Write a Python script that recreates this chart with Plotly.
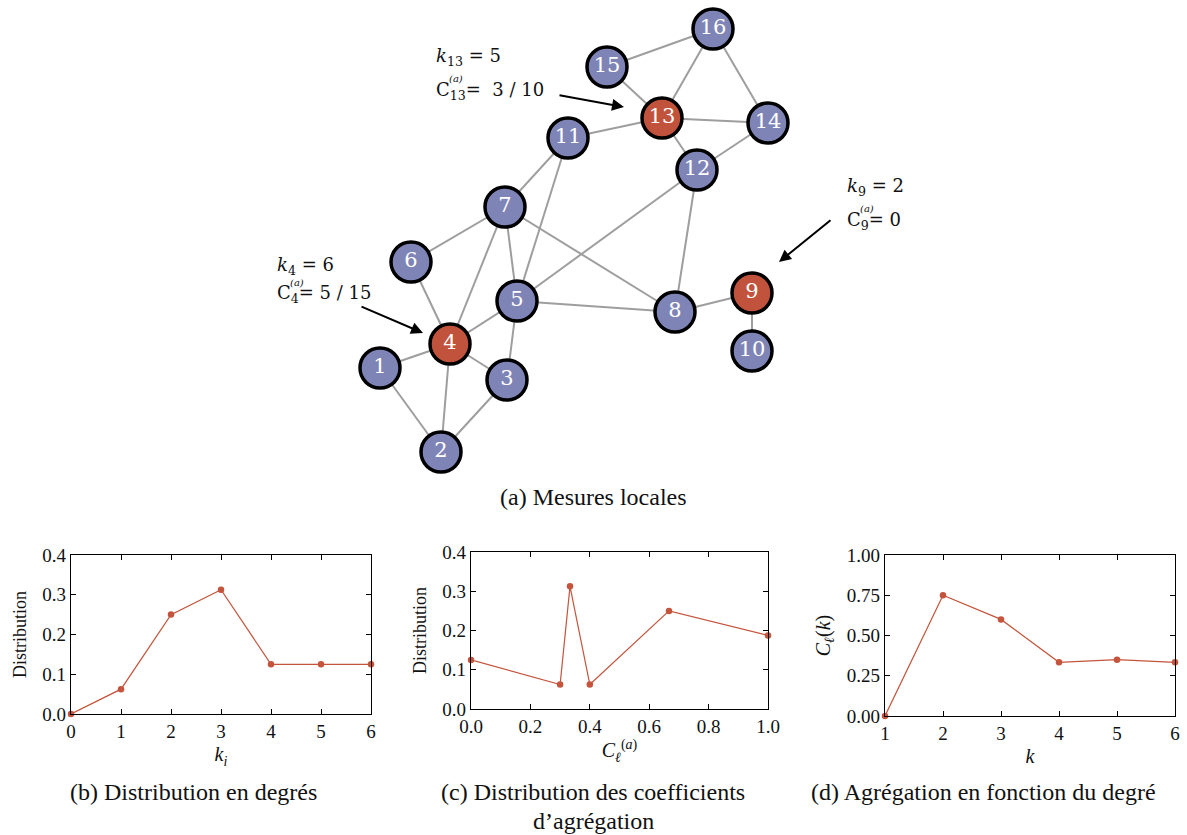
import plotly.graph_objects as go

W, H = 1187, 835

# ---- network (a) ----
node_ids = list(range(1, 17))
node_x = [380, 441, 507, 450, 517, 411, 505, 675, 752, 752, 568, 697, 662, 768, 607, 713]
node_y = [368, 452, 380, 344, 301, 262, 207, 312, 293, 351, 138, 170, 118, 123, 67, 29]
highlighted = [4, 9, 13]
edges = [(1, 4), (1, 2), (2, 4), (2, 3), (3, 4), (3, 5), (4, 5), (4, 6), (4, 7),
         (6, 7), (7, 5), (7, 11), (7, 8), (5, 11), (5, 12), (5, 8), (8, 12),
         (8, 9), (9, 10), (11, 13), (13, 15), (13, 16), (15, 16), (13, 14),
         (13, 12), (12, 14), (14, 16)]

# ---- (b) degree distribution ----
deg_k = [0, 1, 2, 3, 4, 5, 6]
deg_p = [0.0, 0.0625, 0.25, 0.3125, 0.125, 0.125, 0.125]

# ---- (c) clustering coefficient distribution ----
clus_c = [0.0, 0.3, 1 / 3, 0.4, 2 / 3, 1.0]
clus_p = [0.125, 0.0625, 0.3125, 0.0625, 0.25, 0.1875]

# ---- (d) clustering vs degree ----
ck_k = [1, 2, 3, 4, 5, 6]
ck_v = [0.0, 0.75, 0.6, 1 / 3, 0.35, 1 / 3]

BLUE = "#7F84B6"
RED = "#C1533D"
LINE = "#C4543C"
SERIF = "Liberation Serif"
INK = "#111111"

fig = go.Figure()

# edges
ex, ey = [], []
pos = {n: (x, y) for n, x, y in zip(node_ids, node_x, node_y)}
for a, b in edges:
    ex += [pos[a][0], pos[b][0], None]
    ey += [pos[a][1], pos[b][1], None]
fig.add_trace(go.Scatter(x=ex, y=ey, mode="lines", line=dict(color="#9E9E9E", width=2),
                         xaxis="x4", yaxis="y4", hoverinfo="skip", showlegend=False))
# nodes
fig.add_trace(go.Scatter(
    x=node_x, y=node_y, mode="markers+text", text=[str(n) for n in node_ids],
    textposition="middle center",
    textfont=dict(family="DejaVu Serif", size=21, color="white"),
    marker=dict(size=40, color=[RED if n in highlighted else BLUE for n in node_ids],
                line=dict(color="black", width=3.5)),
    xaxis="x4", yaxis="y4", showlegend=False))

# line charts
for xs, ys, xa, ya in [(deg_k, deg_p, "x", "y"), (clus_c, clus_p, "x2", "y2"), (ck_k, ck_v, "x3", "y3")]:
    fig.add_trace(go.Scatter(x=xs, y=ys, mode="lines+markers",
                             line=dict(color=LINE, width=1.2), marker=dict(size=6.5, color=LINE),
                             xaxis=xa, yaxis=ya, showlegend=False, cliponaxis=False))


def px_dom_x(a, b):
    return [a / W, b / W]


def px_dom_y(top, bottom):
    return [1 - bottom / H, 1 - top / H]


axis_common = dict(showline=True, linecolor="black", linewidth=1.3, mirror="ticks",
                   ticks="inside", ticklen=5, tickcolor="black", showgrid=False,
                   zeroline=False, automargin=False,
                   tickfont=dict(family=SERIF, size=19, color=INK))
ttl = dict(family=SERIF, size=20, color=INK)
ttl_small = dict(family=SERIF, size=18, color=INK)

fig.update_layout(
    template="none",
    width=W, height=H, margin=dict(l=0, r=0, t=0, b=0, pad=0),
    paper_bgcolor="white", plot_bgcolor="rgba(0,0,0,0)",
    xaxis=dict(domain=px_dom_x(71, 371), range=[0, 6], dtick=1, anchor="y",
               title=dict(text="<i>k<sub>i</sub></i>", font=ttl, standoff=6),
               **axis_common),
    yaxis=dict(domain=px_dom_y(555, 714), range=[0, 0.4], dtick=0.1, tickformat=".1f", anchor="x",
               title=dict(text="Distribution", font=ttl_small, standoff=10),
               **axis_common),
    xaxis2=dict(domain=px_dom_x(471, 768), range=[0, 1], dtick=0.2, tickformat=".1f", anchor="y2",
                title=dict(text="<i>C</i><sub><i>ℓ</i></sub><sup>(<i>a</i>)</sup>", font=ttl, standoff=6),
                **axis_common),
    yaxis2=dict(domain=px_dom_y(552, 709), range=[0, 0.4], dtick=0.1, tickformat=".1f", anchor="x2",
                title=dict(text="Distribution", font=ttl_small, standoff=10),
                **axis_common),
    xaxis3=dict(domain=px_dom_x(885, 1175), range=[1, 6], dtick=1, anchor="y3",
                title=dict(text="<i>k</i>", font=ttl, standoff=6),
                **axis_common),
    yaxis3=dict(domain=px_dom_y(555, 716), range=[0, 1], dtick=0.25, tickformat=".2f", anchor="x3",
                title=dict(text="<i>C</i><sub><i>ℓ</i></sub>(<i>k</i>)", font=ttl, standoff=10),
                **axis_common),
    xaxis4=dict(domain=[0, 1], range=[0, W], visible=False, anchor="y4"),
    yaxis4=dict(domain=[0, 1], range=[H, 0], visible=False, anchor="x4"),
)

annotations = []


def txt(x, y, s, size=19, xanchor="left"):
    annotations.append(dict(x=x, y=y, xref="x4", yref="y4", text=s, showarrow=False,
                            xanchor=xanchor, yanchor="middle",
                            font=dict(family="DejaVu Serif", size=size, color=INK)))


# node 13 label
txt(434, 57, "<i>k</i><sub>13</sub> = 5", 18)
txt(434, 91, "C<sub>13</sub>=  3 / 10", 18)
txt(447, 78, "<i>(a)</i>", 10)
# node 4 label
txt(275, 266, "<i>k</i><sub>4</sub> = 6", 18)
txt(275, 294, "C<sub>4</sub>= 5 / 15", 18)
txt(288, 282, "<i>(a)</i>", 10)
# node 9 label
txt(845, 187, "<i>k</i><sub>9</sub> = 2", 18)
txt(845, 221, "C<sub>9</sub>= 0", 18)
txt(858, 208, "<i>(a)</i>", 10)

# arrows
for (x0, y0, x1, y1) in [(558, 95, 624, 107), (360, 306, 423, 333), (832, 219, 779, 262)]:
    annotations.append(dict(x=x1, y=y1, ax=x0, ay=y0, xref="x4", yref="y4", axref="x4", ayref="y4",
                            text="", showarrow=True, arrowhead=2, arrowsize=1.2, arrowwidth=2,
                            arrowcolor="black"))

# captions
cap = dict(family=SERIF, size=24, color=INK)
for x, y, s in [(593, 497, "(a) Mesures locales"),
                (193, 792, "(b) Distribution en degrés"),
                (593, 792, "(c) Distribution des coefficients"),
                (593, 821, "d’agrégation"),
                (983, 792, "(d) Agrégation en fonction du degré")]:
    annotations.append(dict(x=x, y=y, xref="x4", yref="y4", text=s, showarrow=False,
                            xanchor="center", yanchor="middle", font=cap))

fig.update_layout(annotations=annotations)
fig.write_html("out.html")
